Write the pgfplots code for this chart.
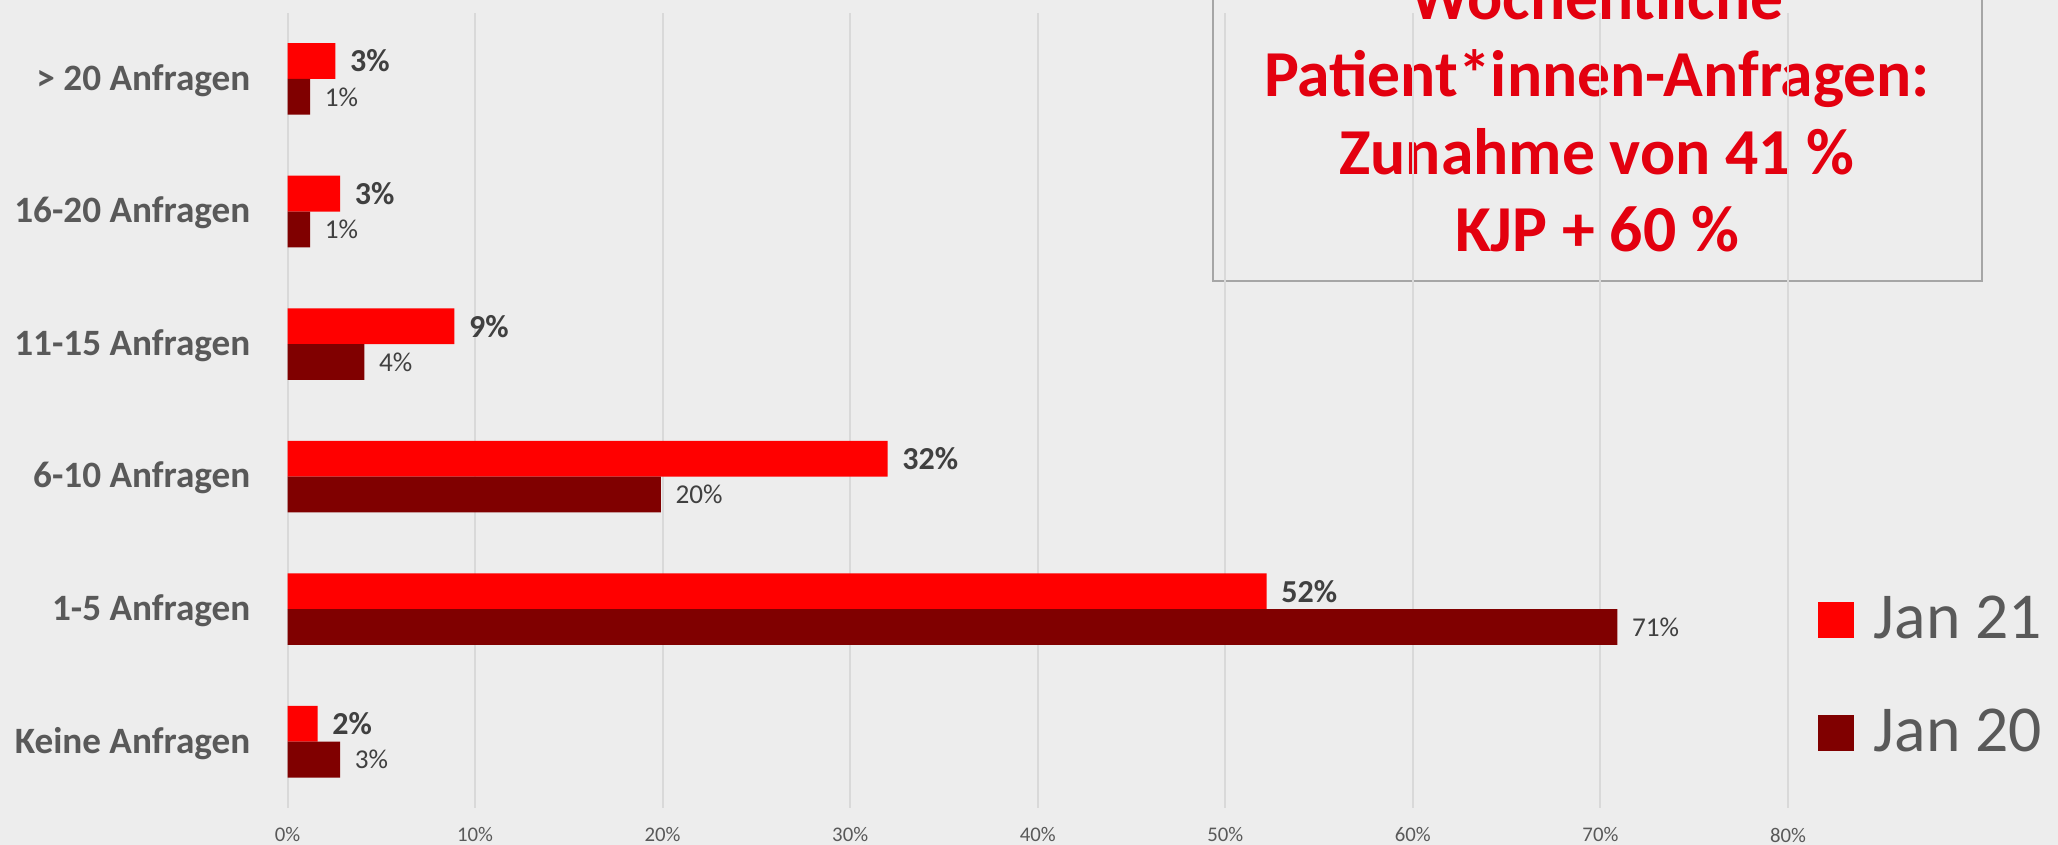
\documentclass[border=0pt]{standalone}
\usepackage{pgfplots}
\pgfplotsset{compat=1.18}
\usepackage{pgfplotstable}
\usepackage{fontspec}
\setmainfont{Carlito}

\definecolor{bg}{HTML}{EDEDED}
\definecolor{jan21}{HTML}{FF0000}
\definecolor{jan20}{HTML}{800000}
\definecolor{txtgray}{HTML}{595959}
\definecolor{lblgray}{HTML}{404040}
\definecolor{gridgray}{HTML}{D9D9D9}
\definecolor{titlered}{HTML}{E3000F}
\definecolor{boxgray}{HTML}{A6A6A6}

% y: 0 = Keine Anfragen ... 5 = > 20 Anfragen
\pgfplotstableread{
y jan21 jan20
0 1.6  2.8
1 52.2 70.9
2 32.0 19.9
3 8.9  4.1
4 2.8  1.2
5 2.55 1.2
}\anfragen

\begin{document}
\begin{tikzpicture}
\fill[bg] (0,0) rectangle (514.5pt,211.25pt);
\begin{scope}
\clip (0,0) rectangle (514.5pt,211.25pt);
\draw[boxgray, line width=0.6pt] (303.25pt,141pt) rectangle (495.5pt,225pt);
\tikzset{ttl/.style={anchor=base, inner sep=0pt, text=titlered,
    font=\bfseries\fontsize{16.4}{19}\selectfont}}
\node[ttl] at (399.25pt,206.4pt) {Wöchentliche};
\node[ttl] at (399.25pt,187pt) {Patient*innen-Anfragen:};
\node[ttl] at (399.25pt,167.6pt) {Zunahme von 41 \%};
\node[ttl] at (399.25pt,148.25pt) {KJP + 60 \%};

\begin{axis}[
  at={(71.875pt,9.25pt)}, anchor=south west,
  scale only axis, width=375.125pt, height=198.83pt,
  xbar, bar width=0.27,
  xmin=0, xmax=80, ymin=-0.5, ymax=5.5,
  xtick={0,10,...,80},
  xticklabel={\pgfmathprintnumber[assume math mode=true]{\tick}\%},
  ytick={0,...,5},
  yticklabels={Keine Anfragen, 1-5 Anfragen, 6-10 Anfragen, 11-15 Anfragen, 16-20 Anfragen, > 20 Anfragen},
  xmajorgrids, major grid style={gridgray, line width=0.5pt},
  axis line style={draw=none},
  major tick length=0pt,
  xticklabel style={font=\fontsize{5.2}{6}\selectfont, text=txtgray, anchor=center, inner sep=0pt, yshift=-6.75pt},
  yticklabel style={font=\bfseries\fontsize{9.3}{11}\selectfont, text=txtgray, anchor=east, inner sep=0pt, xshift=-9.1pt, yshift=-0.4pt},
  point meta=x,
  nodes near coords={\pgfmathprintnumber[fixed,precision=0,assume math mode=true]{\pgfplotspointmeta}\%},
  legend style={at={(1.0113,0.165)}, anchor=west, draw=none, fill=none,
    font=\fontsize{16.4}{19}\selectfont, text=txtgray, row sep=12pt},
  legend cell align=left,
  legend image code/.code={\fill[#1] (0pt,-4.5pt) rectangle (9pt,4.5pt); \path (12pt,0pt);},
  clip=false,
]
\addplot[fill=jan21, draw=none, bar shift=0.135,
  every node near coord/.append style={font=\bfseries\fontsize{8}{9}\selectfont, text=lblgray, inner sep=0pt, xshift=3.5pt}]
  table[x=jan21, y=y] {\anfragen};
\addplot[fill=jan20, draw=none, bar shift=-0.135,
  every node near coord/.append style={font=\fontsize{6.8}{8}\selectfont, text=lblgray, inner sep=0pt, xshift=3.5pt}]
  table[x=jan20, y=y] {\anfragen};
\legend{Jan 21, Jan 20}
\end{axis}
\end{scope}
\pgfresetboundingbox
\path[use as bounding box] (0,0) rectangle (514.5pt,211.25pt);
\end{tikzpicture}
\end{document}
